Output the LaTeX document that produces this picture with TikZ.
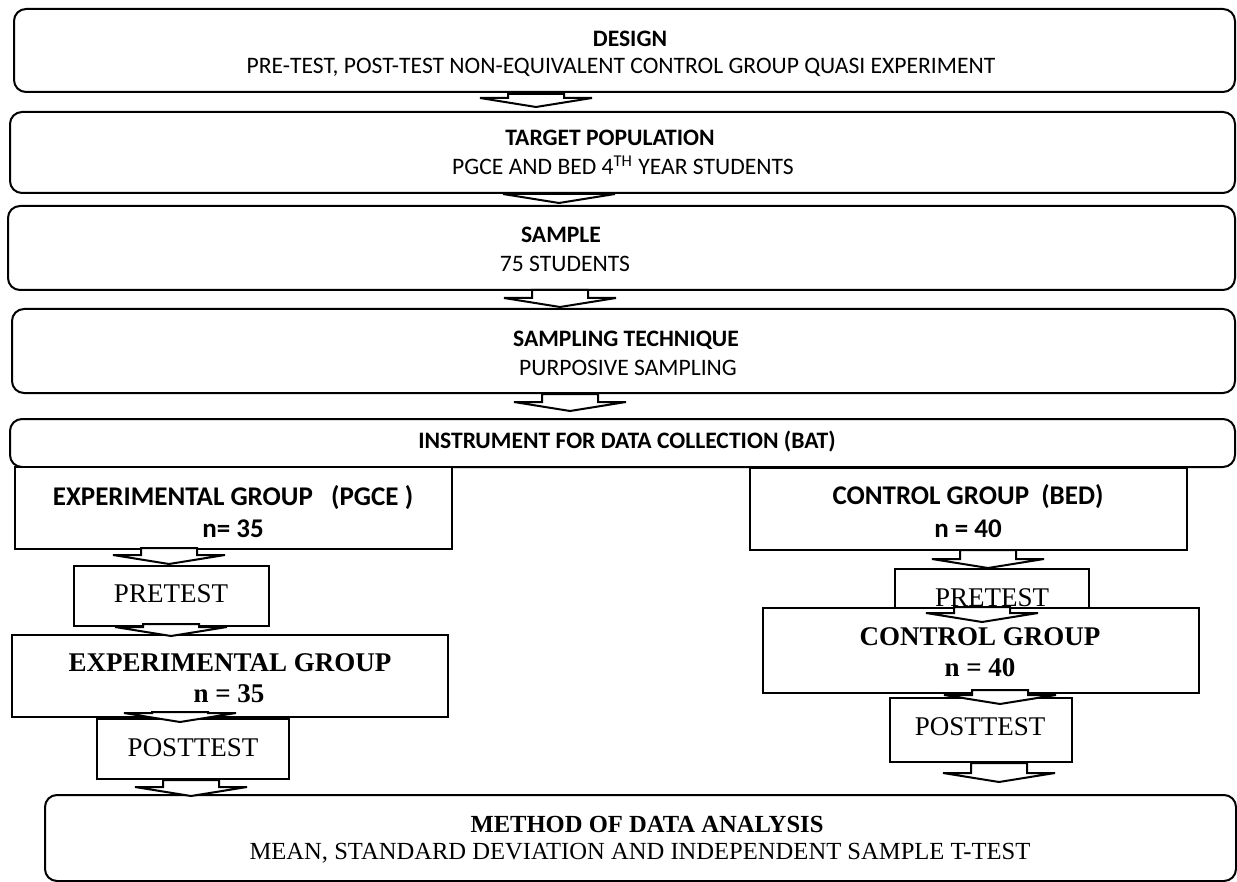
\documentclass[tikz,border=0pt]{standalone}
\usepackage{fontspec}
\setmainfont{Carlito}
\newfontfamily\tnr{Liberation Serif}
\usetikzlibrary{calc}
\tikzset{
  rbox/.style={draw, line width=1pt, rounded corners=6pt, fill=white, inner sep=0pt},
  sbox/.style={draw, line width=1pt, fill=white, inner sep=0pt},
  txt/.style={anchor=base, inner sep=0pt, font=\fontsize{11.8}{14}\selectfont},
  btxt/.style={anchor=base, inner sep=0pt, font=\fontsize{11.8}{14}\selectfont\bfseries},
  gtxt/.style={anchor=base, inner sep=0pt, font=\fontsize{13.5}{16}\selectfont\bfseries},
  ttxt/.style={anchor=base, inner sep=0pt, font=\fontsize{13.5}{16}\selectfont\tnr},
  tbtxt/.style={anchor=base, inner sep=0pt, font=\fontsize{13.5}{16}\selectfont\tnr\bfseries},
  stxt/.style={anchor=base, inner sep=0pt, font=\fontsize{12.3}{14}\selectfont\tnr},
  sbtxt/.style={anchor=base, inner sep=0pt, font=\fontsize{12.3}{14}\selectfont\tnr\bfseries},
  barrow/.style={draw, line width=1pt, fill=white, line join=miter,
    to path={let \p1=(\tikztostart), \p2=(\tikztotarget) in
      (\x1-14pt,\y1) -- (\x1+14pt,\y1) -- (\x1+14pt,\y2+4.5pt) -- (\x1+28pt,\y2+4.5pt)
      -- (\x2,\y2) -- (\x1-28pt,\y2+4.5pt) -- (\x1-14pt,\y2+4.5pt) -- cycle}}
}
\begin{document}
\begin{tikzpicture}[x=0.5pt,y=-0.5pt]
\useasboundingbox (0,0) rectangle (1237,882);

% boxes
\node[rbox, minimum width=610.5pt, minimum height=41.5pt] (design) at (624.5,50.5) {};
\node[rbox, minimum width=612.5pt, minimum height=40.5pt] (target) at (622.5,152.5) {};
\node[rbox, minimum width=613.5pt, minimum height=42pt] (sample) at (621.5,248) {};
\node[rbox, minimum width=611.5pt, minimum height=42pt] (sampling) at (623.5,351) {};
\node[rbox, minimum width=612.5pt, minimum height=24pt] (instrument) at (622.5,443) {};
\node[sbox, minimum width=218.5pt, minimum height=41pt] (exp) at (233.5,508) {};
\node[sbox, minimum width=218.5pt, minimum height=41pt] (control) at (968.5,509) {};
\node[sbox, minimum width=97.5pt, minimum height=30pt] (expPre) at (171.5,596) {};
\node[sbox, minimum width=218pt, minimum height=41pt] (exp2) at (230,676) {};
\node[sbox, minimum width=96pt, minimum height=30pt] (expPost) at (193,749) {};
\node[sbox, minimum width=97pt, minimum height=30.5pt] (ctrlPre) at (992,599.5) {};
\node[sbox, minimum width=218pt, minimum height=42.5pt] (ctrl2) at (981,650.5) {};
\node[sbox, minimum width=91pt, minimum height=32pt] (ctrlPost) at (981,730) {};
\node[rbox, minimum width=595.5pt, minimum height=43pt] (method) at (640.5,838) {};

% texts
\node[btxt] (t1a) at (630,47) {DESIGN};
\node[txt] (t1b) at (621,74) {PRE-TEST, POST-TEST NON-EQUIVALENT CONTROL GROUP QUASI EXPERIMENT};
\node[btxt] (t2a) at (610,146) {TARGET POPULATION};
\node[txt] (t2b) at (623,175) {PGCE AND BED 4\textsuperscript{TH} YEAR STUDENTS};
\node[btxt] (t3a) at (561,243) {SAMPLE};
\node[txt] (t3b) at (565,272) {75 STUDENTS};
\node[btxt] (t4a) at (626,346) {SAMPLING TECHNIQUE};
\node[txt] (t4b) at (628,375) {PURPOSIVE SAMPLING};
\node[btxt] (t5) at (627,448) {INSTRUMENT FOR DATA COLLECTION (BAT)};
\node[gtxt] (t6a) at (233,505) {EXPERIMENTAL GROUP \ \ (PGCE )};
\node[gtxt] (t6b) at (233,537) {n= 35};
\node[gtxt] (t7a) at (968,504) {CONTROL GROUP \ (BED)};
\node[gtxt] (t7b) at (968,537) {n = 40};
\node[ttxt] (t8) at (171,602) {PRETEST};
\node[ttxt] (t9) at (992,606) {PRETEST};
\node[tbtxt] (t10a) at (230,671) {EXPERIMENTAL GROUP};
\node[tbtxt] (t10b) at (229,702) {n = 35};
\node[tbtxt] (t11a) at (980,645) {CONTROL GROUP};
\node[tbtxt] (t11b) at (980,676) {n = 40};
\node[ttxt] (t12) at (193,756) {POSTTEST};
\node[ttxt] (t13) at (980,735) {POSTTEST};
\node[sbtxt] (t14a) at (647,832) {METHOD OF DATA ANALYSIS};
\node[stxt] (t14b) at (640,859) {MEAN, STANDARD DEVIATION AND INDEPENDENT SAMPLE T-TEST};

% block arrows
\coordinate (ctrlEnd) at (999,782);
\path[barrow] ($(536,0 |- design.south)+(0,1)$) to ($(536,0 |- target.north)+(0,-4)$);
\path[barrow] (559,0 |- target.south) to ($(559,0 |- sample.north)+(0,-2)$);
\path[barrow] ($(560,0 |- sample.south)+(0,-1)$) to ($(560,0 |- sampling.north)+(0,-1)$);
\path[barrow] (570,0 |- sampling.south) to ($(570,0 |- instrument.north)+(0,-7)$);
\path[barrow] ($(169,0 |- exp.south)+(0,-2)$) to ($(169,0 |- expPre.north)+(0,-1)$);
\path[barrow] ($(171,0 |- expPre.south)+(0,-3)$) to ($(171,0 |- exp2.north)+(0,2)$);
\path[barrow] ($(180,0 |- exp2.south)+(0,-6)$) to ($(180,0 |- expPost.north)+(0,4)$);
\path[barrow] (191,0 |- expPost.south) to ($(191,0 |- method.north)+(0,2)$);
\path[barrow] ($(988,0 |- control.south)+(0,-1)$) to (988,0 |- ctrlPre.north);
\path[barrow] (982,0 |- ctrl2.north) to ($(982,0 |- ctrl2.north)+(0,15)$);
\path[barrow] ($(1000,0 |- ctrl2.south)+(0,-4)$) to ($(1000,0 |- ctrlPost.north)+(0,7)$);
\path[barrow] (999,0 |- ctrlPost.south) to (ctrlEnd);
\end{tikzpicture}
\end{document}
